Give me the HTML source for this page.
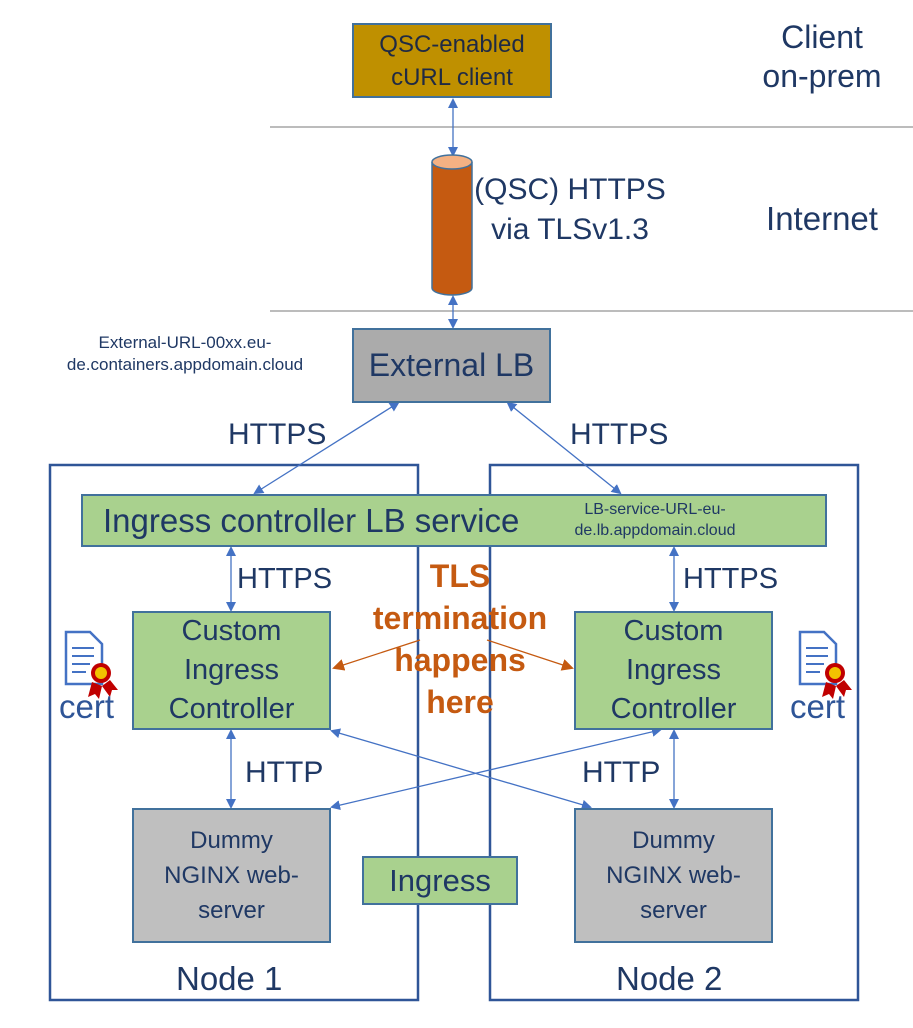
<!DOCTYPE html>
<html><head><style>
body{margin:0;width:913px;height:1028px;background:#fff;position:relative;overflow:hidden;font-family:"Liberation Sans",sans-serif;color:#1f3864}
.b{position:absolute;box-sizing:border-box;display:flex;align-items:center;justify-content:center;text-align:center;border:2px solid #41719c;white-space:nowrap}
.t{position:absolute;white-space:nowrap;text-align:center}
</style></head><body>
<svg width="913" height="1028" style="position:absolute;left:0;top:0">
<defs>
<marker id="a" markerWidth="10" markerHeight="10" refX="8" refY="5" orient="auto-start-reverse" markerUnits="userSpaceOnUse"><path d="M0,0 L10,5 L0,10z" fill="#4472c4"/></marker>
<marker id="o" markerWidth="12" markerHeight="12" refX="10" refY="6" orient="auto" markerUnits="userSpaceOnUse"><path d="M0,0 L12,6 L0,12z" fill="#c55a11"/></marker>
</defs>
<line x1="270" y1="127" x2="913" y2="127" stroke="#a6a6a6" stroke-width="1.5"/>
<line x1="270" y1="311" x2="913" y2="311" stroke="#a6a6a6" stroke-width="1.5"/>
<rect x="50" y="465" width="368" height="535" fill="none" stroke="#2f5597" stroke-width="2.5"/>
<rect x="490" y="465" width="368" height="535" fill="none" stroke="#2f5597" stroke-width="2.5"/>
<g stroke="#4472c4" stroke-width="1.3" marker-start="url(#a)" marker-end="url(#a)">
<line x1="453" y1="100" x2="453" y2="155"/>
<line x1="453" y1="297" x2="453" y2="327"/>
<line x1="398" y1="403" x2="255" y2="493"/>
<line x1="508" y1="403" x2="620" y2="493"/>
<line x1="231" y1="548" x2="231" y2="610"/>
<line x1="231" y1="731" x2="231" y2="807"/>
<line x1="674" y1="548" x2="674" y2="610"/>
<line x1="674" y1="731" x2="674" y2="807"/>
<line x1="332" y1="731" x2="590" y2="807"/>
<line x1="660" y1="730" x2="332" y2="807"/>
</g>
<g stroke="#c55a11" stroke-width="1.3">
<line x1="420" y1="640" x2="334" y2="668" marker-end="url(#o)"/>
<line x1="487" y1="640" x2="572" y2="668" marker-end="url(#o)"/>
</g>
<path d="M432,162 L432,288 A20,7 0 0 0 472,288 L472,162" fill="#c55a11" stroke="#41719c" stroke-width="1.5"/>
<ellipse cx="452" cy="162" rx="20" ry="7" fill="#f4b183" stroke="#41719c" stroke-width="1.5"/>
<g id="c">
<path d="M66,632 L90,632 L102,644 L102,684 L66,684 Z" fill="#fff" stroke="#4472c4" stroke-width="2.5"/>
<g stroke="#4472c4" stroke-width="2"><line x1="72" y1="648" x2="94" y2="648"/><line x1="72" y1="656" x2="94" y2="656"/><line x1="72" y1="664" x2="90" y2="664"/><line x1="72" y1="672" x2="86" y2="672"/></g>
<path d="M92,682 L88,697 L95,694 L99,699 L102,686 Z M102,686 L110,697 L112,690 L118,690 L110,680Z" fill="#c00000"/>
<circle cx="101" cy="673" r="10" fill="#c00000"/><circle cx="101" cy="673" r="6" fill="#f2c200"/>
</g>
<use href="#c" x="734" y="0"/>
</svg>
<div class="b" style="left:352px;top:23px;width:200px;height:75px;background:#bf9000;font-size:24px;line-height:33px;color:#1f2a44">QSC-enabled<br>cURL client</div>
<div class="t" style="left:752px;top:18px;width:140px;font-size:32px;line-height:39px">Client<br>on-prem</div>
<div class="t" style="left:470px;top:170px;width:200px;font-size:30px;line-height:40px">(QSC) HTTPS<br>via TLSv1.3</div>
<div class="t" style="left:752px;top:200px;width:140px;font-size:33px">Internet</div>
<div class="t" style="left:60px;top:332px;width:250px;font-size:17px;line-height:22px">External-URL-00xx.eu-<br>de.containers.appdomain.cloud</div>
<div class="b" style="left:352px;top:328px;width:199px;height:75px;background:#ababab;font-size:32px">External LB</div>
<div class="t" style="left:228px;top:418px;font-size:30px">HTTPS</div>
<div class="t" style="left:570px;top:418px;font-size:30px">HTTPS</div>
<div class="b" style="left:81px;top:494px;width:746px;height:53px;background:#a9d18e;justify-content:flex-start;padding-left:20px;font-size:33px">Ingress controller LB service</div>
<div class="t" style="left:555px;top:499px;width:200px;font-size:16px;line-height:21px">LB-service-URL-eu-<br>de.lb.appdomain.cloud</div>
<div class="t" style="left:237px;top:563px;font-size:29px">HTTPS</div>
<div class="t" style="left:683px;top:563px;font-size:29px">HTTPS</div>
<div class="b" style="left:132px;top:611px;width:199px;height:119px;background:#a9d18e;font-size:29px;line-height:39px">Custom<br>Ingress<br>Controller</div>
<div class="b" style="left:574px;top:611px;width:199px;height:119px;background:#a9d18e;font-size:29px;line-height:39px">Custom<br>Ingress<br>Controller</div>
<div class="t" style="left:355px;top:555px;width:210px;font-size:32px;line-height:42px;font-weight:bold;color:#c55a11">TLS<br>termination<br>happens<br>here</div>
<div class="t" style="left:59px;top:688px;font-size:33px;color:#2f5597">cert</div>
<div class="t" style="left:790px;top:688px;font-size:33px;color:#2f5597">cert</div>
<div class="t" style="left:245px;top:756px;font-size:30px">HTTP</div>
<div class="t" style="left:582px;top:756px;font-size:30px">HTTP</div>
<div class="b" style="left:132px;top:808px;width:199px;height:135px;background:#bfbfbf;font-size:24px;line-height:35px">Dummy<br>NGINX web-<br>server</div>
<div class="b" style="left:574px;top:808px;width:199px;height:135px;background:#bfbfbf;font-size:24px;line-height:35px">Dummy<br>NGINX web-<br>server</div>
<div class="b" style="left:362px;top:856px;width:156px;height:49px;background:#a9d18e;font-size:31px">Ingress</div>
<div class="t" style="left:176px;top:960px;font-size:33px">Node 1</div>
<div class="t" style="left:616px;top:960px;font-size:33px">Node 2</div>
</body></html>
